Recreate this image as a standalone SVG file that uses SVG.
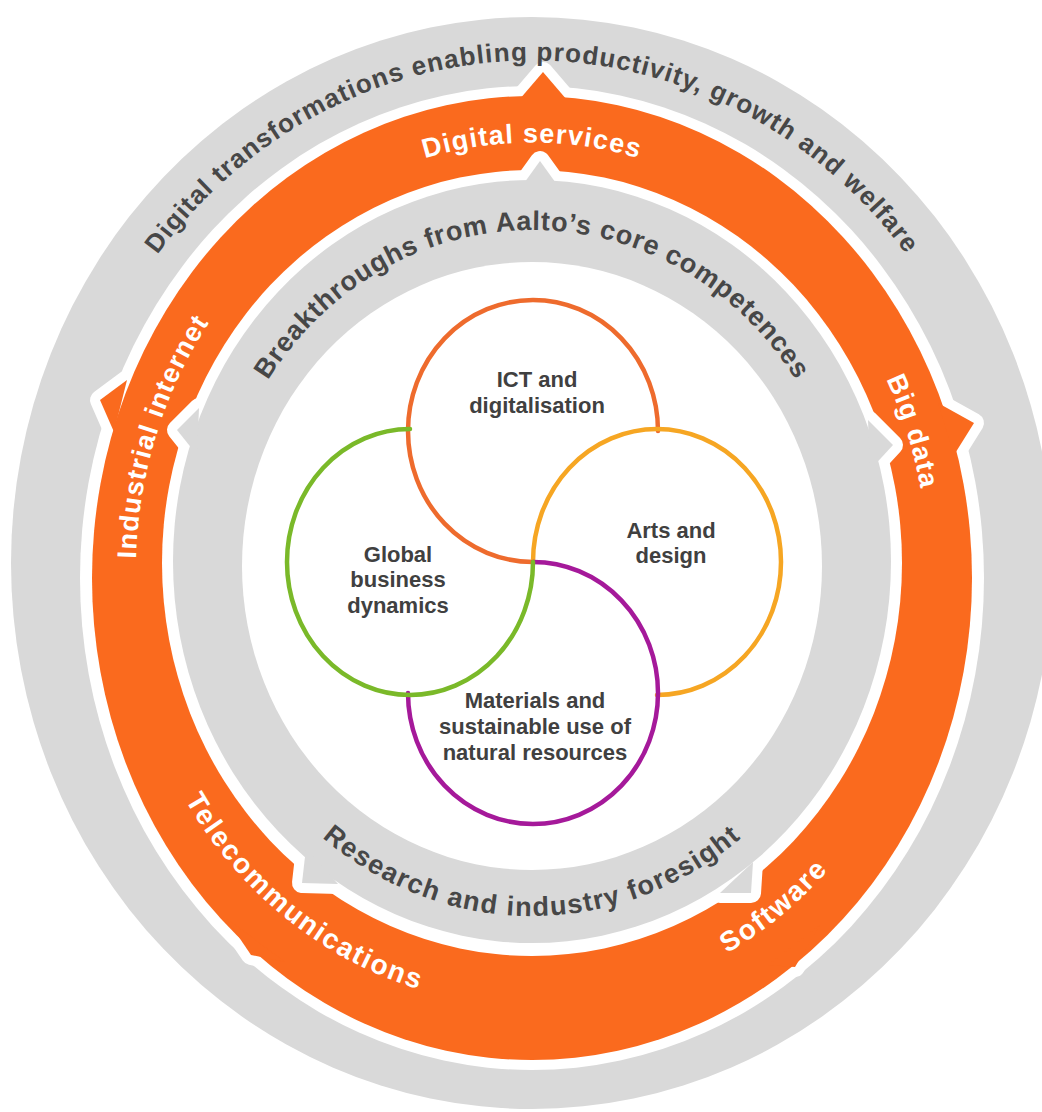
<svg xmlns="http://www.w3.org/2000/svg" width="1042" height="1112" viewBox="0 0 1042 1112">
<style>
.g{fill:#d9d9d9}.w{fill:#ffffff}.o{fill:#fa6a1e}
.gap{fill:#ffffff;stroke:#ffffff;stroke-width:20;stroke-linejoin:round}
.ot{font-family:"Liberation Sans",Arial,sans-serif;font-weight:bold;font-size:27px;fill:#ffffff;letter-spacing:1.2px}
.ob{font-family:"Liberation Sans",Arial,sans-serif;font-weight:bold;font-size:28px;fill:#ffffff;letter-spacing:1.8px}
.gt{font-family:"Liberation Sans",Arial,sans-serif;font-weight:bold;font-size:27px;fill:#474747}
.ct{font-family:"Liberation Sans",Arial,sans-serif;font-weight:bold;font-size:22px;fill:#404040;text-anchor:middle}
.arc{fill:none;stroke-width:4.5;stroke-linecap:round}
</style>
<defs>
<path id="pOuter" d="M 55 570.5 A 477 510 0 0 1 1009 570.5"/>
<path id="pOrTop" d="M 136 570.5 A 396 428 0 0 1 928 570.5"/>
<path id="pOrBot" d="M 124 570.5 A 408 436 0 0 0 940 570.5"/>
<path id="pGrTop" d="M 216 564 A 316 334 0 0 1 848 564"/>
<path id="pGrBot" d="M 199 564 A 333 352 0 0 0 865 564"/>
</defs>
<g id="outer-ring">
<ellipse class="g" cx="532" cy="563" rx="521" ry="546"/>
<ellipse class="w" cx="532" cy="578" rx="452" ry="492"/>
</g>
<g id="orange-ring">
<g id="orange-barb-gaps">
<polygon class="gap" points="519,100 543,72 567,100"/>
<polygon class="gap" points="938,403 974,423 954,455"/>
<polygon class="gap" points="127,380 100,400 114,432"/>
<polygon class="gap" points="226,918 251,955 285,962"/>
<polygon class="gap" points="820,925 795,967 768,965"/>
</g>
<ellipse class="o" cx="532" cy="578" rx="440" ry="482"/>
<g id="orange-barbs">
<polygon class="o" points="519,100 543,72 567,100"/>
<polygon class="o" points="938,403 974,423 954,455"/>
<polygon class="o" points="127,380 100,400 114,432"/>
<polygon class="o" points="226,918 251,955 285,962"/>
<polygon class="o" points="820,925 795,967 768,965"/>
</g>
<ellipse class="w" cx="532" cy="563" rx="370" ry="393"/>
</g>
<g id="inner-ring">
<g id="gray-barb-gaps">
<polygon class="gap" points="522,186 540,161 558,186"/>
<polygon class="gap" points="868,420 893,445 870,470"/>
<polygon class="gap" points="199,408 177,430 197,455"/>
<polygon class="gap" points="306,848 302,883 338,884"/>
<polygon class="gap" points="753,862 751,893 720,893"/>
</g>
<ellipse class="g" cx="532" cy="561.5" rx="359" ry="381.5"/>
<g id="gray-barbs">
<polygon class="g" points="522,186 540,161 558,186"/>
<polygon class="g" points="868,420 893,445 870,470"/>
<polygon class="g" points="199,408 177,430 197,455"/>
<polygon class="g" points="306,848 302,883 338,884"/>
<polygon class="g" points="753,862 751,893 720,893"/>
</g>
<ellipse class="w" cx="532" cy="566" rx="290" ry="304"/>
</g>
<g id="ring-labels">
<text class="gt" style="font-size:26px;letter-spacing:1.1px"><textPath href="#pOuter" startOffset="50%" text-anchor="middle">Digital transformations enabling productivity, growth and welfare</textPath></text>
<text class="ot"><textPath href="#pOrTop" startOffset="50%" text-anchor="middle">Digital services</textPath></text>
<text class="ot"><textPath href="#pOrTop" startOffset="12">Industrial internet</textPath></text>
<text class="ot"><textPath href="#pOrTop" startOffset="1213" text-anchor="end">Big data</textPath></text>
<text class="ob"><textPath href="#pOrBot" startOffset="240">Telecommunications</textPath></text>
<text class="ob"><textPath href="#pOrBot" startOffset="1000" text-anchor="end">Software</textPath></text>
<text class="gt" style="letter-spacing:0.8px"><textPath href="#pGrTop" startOffset="50%" text-anchor="middle">Breakthroughs from Aalto’s core competences</textPath></text>
<text class="gt" style="letter-spacing:1.4px"><textPath href="#pGrBot" startOffset="50%" text-anchor="middle">Research and industry foresight</textPath></text>
</g>
<g id="ict">
<path class="arc" stroke="#ee6b2d" d="M 533 562 A 125 131 0 1 1 658 431"/>
<text class="ct" x="537" y="387">ICT and</text>
<text class="ct" x="537" y="413">digitalisation</text>
</g>
<g id="arts">
<path class="arc" stroke="#f6a623" d="M 533 562 A 124 133 0 1 1 657 695"/>
<text class="ct" x="671" y="538">Arts and</text>
<text class="ct" x="671" y="563">design</text>
</g>
<g id="materials">
<path class="arc" stroke="#a5199a" d="M 533 562 A 125 131 0 1 1 408 693"/>
<text class="ct" x="535" y="708">Materials and</text>
<text class="ct" x="535" y="734">sustainable use of</text>
<text class="ct" x="535" y="760">natural resources</text>
</g>
<g id="global">
<path class="arc" stroke="#7ab929" d="M 533 562 A 123 133 0 1 1 410 429"/>
<text class="ct" x="398" y="562">Global</text>
<text class="ct" x="398" y="587">business</text>
<text class="ct" x="398" y="613">dynamics</text>
</g>
</svg>
